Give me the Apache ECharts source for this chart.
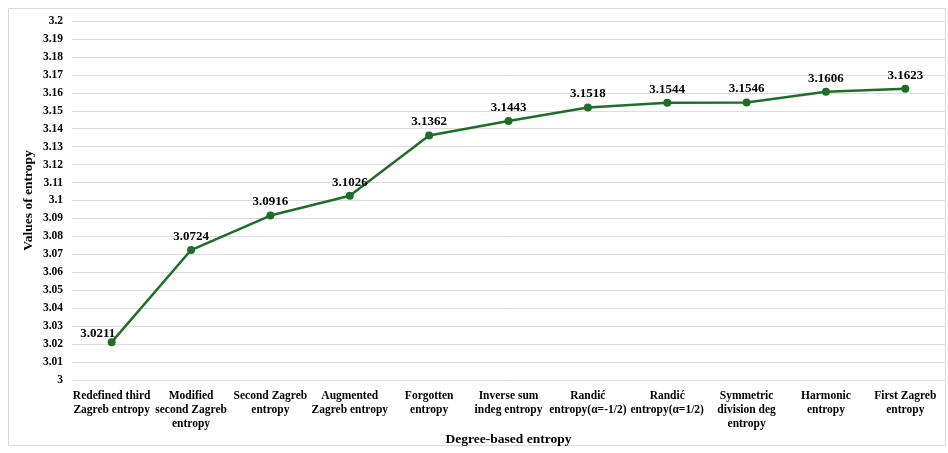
<!DOCTYPE html>
<html><head><meta charset="utf-8">
<script src="https://cdn.jsdelivr.net/npm/echarts@6/dist/echarts.min.js"></script>
<style>html,body{margin:0;padding:0;background:#fff}#c{width:948px;height:453px;}</style>
</head><body><div id="c"></div>
<script>
const categories = [
  "Redefined third\nZagreb entropy",
  "Modified\nsecond Zagreb\nentropy",
  "Second Zagreb\nentropy",
  "Augmented\nZagreb entropy",
  "Forgotten\nentropy",
  "Inverse sum\nindeg entropy",
  "Randić\nentropy(α=-1/2)",
  "Randić\nentropy(α=1/2)",
  "Symmetric\ndivision deg\nentropy",
  "Harmonic\nentropy",
  "First Zagreb\nentropy"
];
const values = [3.0211, 3.0724, 3.0916, 3.1026, 3.1362, 3.1443, 3.1518, 3.1544, 3.1546, 3.1606, 3.1623];
const yMin = 3, yMax = 3.2, yStep = 0.01;

const font = "'Liberation Serif','Times New Roman',serif";
const green = '#1f6e27';
const chart = echarts.init(document.getElementById('c'));
chart.setOption({
  animation: false,
  graphic: [{type:'rect', shape:{x:8.5,y:8.5,width:937,height:437}, style:{fill:'none', stroke:'#d9d9d9', lineWidth:1}}],
  grid: {left: 72, right: 3, top: 21, bottom: 73, outerBoundsMode: 'none', containLabel: false},
  xAxis: {
    type: 'category', data: categories, boundaryGap: true,
    axisLine: {show:false}, axisTick: {show:false},
    axisLabel: {interval:0, fontFamily: font, fontWeight:'bold', fontSize:11.5, color:'#000', lineHeight:14, margin:9},
    name: 'Degree-based entropy', nameLocation: 'middle', nameGap: 53, nameMoveOverlap: false,
    nameTextStyle: {fontFamily: font, fontWeight:'bold', fontSize:13.5, color:'#000'}
  },
  yAxis: {
    type: 'value', min: yMin, max: yMax, interval: yStep,
    axisLine: {show:false}, axisTick: {show:false},
    splitLine: {lineStyle:{color:'#dcdcdc', width:1}},
    axisLabel: {fontFamily: font, fontWeight:'bold', fontSize:11.5, color:'#000', margin:9,
      formatter: v => String(parseFloat(v.toFixed(2)))},
    name: 'Values of entropy', nameLocation: 'middle', nameGap: 36, nameRotate: 90, nameMoveOverlap: false,
    nameTextStyle: {fontFamily: font, fontWeight:'bold', fontSize:13.5, color:'#000'}
  },
  series: [{
    type: 'line', data: values.map((v,i)=> i===0 ? {value:v, label:{position:'top', offset:[-14,5]}} : v),
    lineStyle: {color: green, width: 2.5},
    itemStyle: {color: green},
    symbol: 'circle', symbolSize: 8,
    label: {show: true, position: 'top', distance: 3, fontFamily: font, fontWeight:'bold', fontSize:13, color:'#000',
      formatter: p => values[p.dataIndex].toString()}
  }]
});
</script></body></html>
